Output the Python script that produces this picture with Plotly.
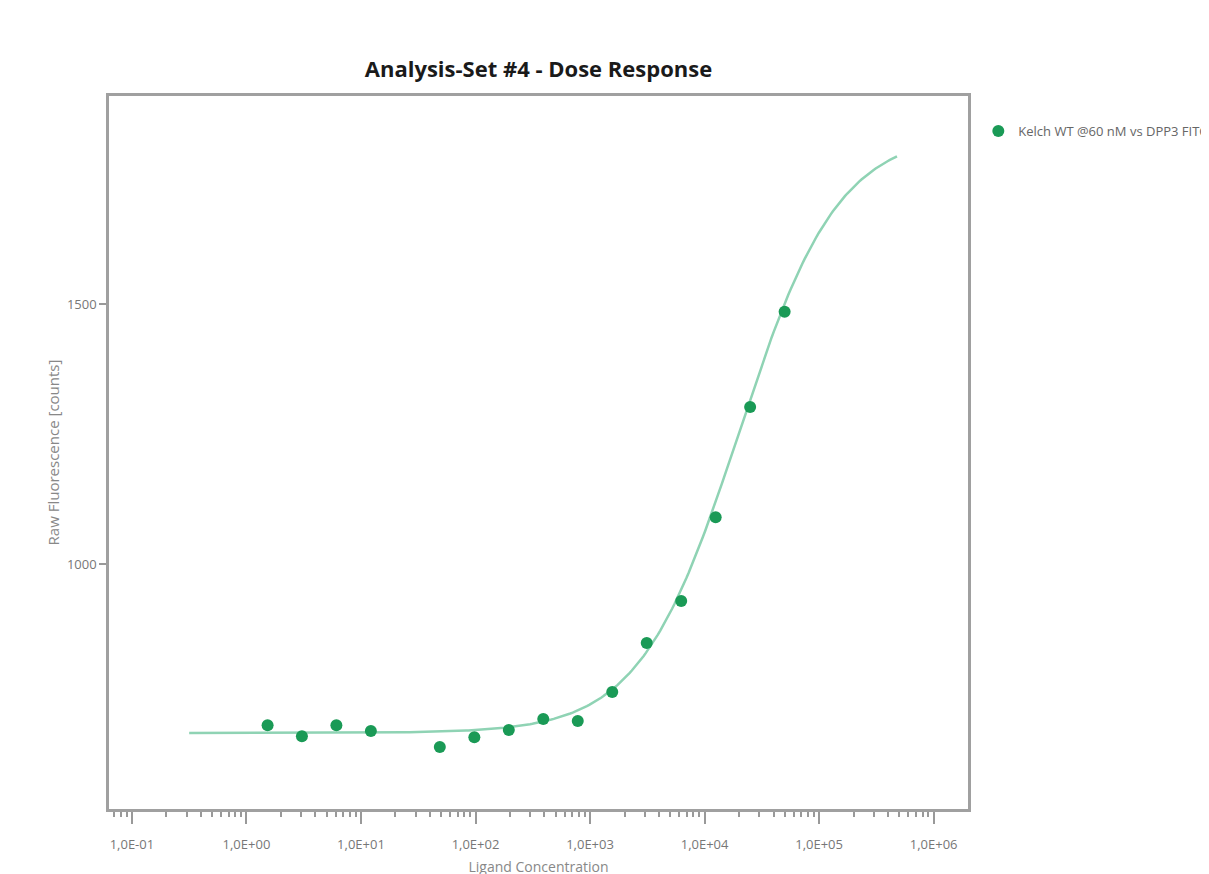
import numpy as np
import plotly.graph_objects as go

# Measured data (ligand concentration, raw fluorescence counts)
concentration = [1.53, 3.05, 6.1, 12.2, 48.8, 97.7, 195.3, 390.6, 781.3,
                 1562.5, 3125, 6250, 12500, 25000, 50000]
fluorescence = [690, 669, 690, 679, 648, 667, 681, 702, 698,
                754, 848, 929, 1090, 1302, 1485]

# 4-parameter logistic fit parameters
fit_bottom = 675
fit_top = 1830
fit_log_ec50 = 4.30
fit_hill = 1.0
fit_log_min = -0.5
fit_log_max = 5.68

x_tick_values = [1e-1, 1e0, 1e1, 1e2, 1e3, 1e4, 1e5, 1e6]
x_tick_labels = ["1,0E-01", "1,0E+00", "1,0E+01", "1,0E+02", "1,0E+03",
                 "1,0E+04", "1,0E+05", "1,0E+06"]
y_tick_values = [1000, 1500]
y_tick_labels = ["1000", "1500"]

series_name = "Kelch WT @60 nM vs DPP3 FITC"

log_x = np.linspace(fit_log_min, fit_log_max, 300)
fit_x = 10 ** log_x
fit_y = fit_bottom + (fit_top - fit_bottom) / (1 + 10 ** (fit_hill * (fit_log_ec50 - log_x)))

minor_vals = [m * 10 ** d for d in range(-2, 7) for m in range(2, 10)]

L, R, T, B = 101, 249, 88, 73
W, H = 1209, 874
plot_w = W - L - R

fig = go.Figure()
fig.add_trace(go.Scatter(x=fit_x, y=fit_y, mode="lines",
                         line=dict(color="#8fd3b4", width=2.5),
                         showlegend=False, hoverinfo="skip"))
fig.add_trace(go.Scatter(x=concentration, y=fluorescence, mode="markers",
                         marker=dict(color="#1a9a56", size=12),
                         name=series_name))

fig.update_layout(
    width=W, height=H,
    paper_bgcolor="white", plot_bgcolor="white",
    margin=dict(l=L, r=R, t=T, b=B, autoexpand=False),
    title=dict(text="<b>Analysis-Set #4 - Dose Response</b>",
               x=(L + plot_w / 2) / W, xanchor="center",
               y=1 - 61 / H, yanchor="middle",
               font=dict(family="Open Sans", size=22, color="#1a1a1a")),
    font=dict(family="Open Sans", color="#777777", size=12),
    legend=dict(x=1.012, y=0.972, xanchor="left", yanchor="top",
                font=dict(size=13, color="#666666"), bgcolor="rgba(0,0,0,0)",
                itemsizing="constant"),
)
fig.update_xaxes(type="log", range=[-1.2, 6.3],
                 tickvals=x_tick_values, ticktext=x_tick_labels,
                 ticks="outside", ticklen=12, tickcolor="#999999", tickwidth=1.5,
                 ticklabelstandoff=10,
                 showgrid=False, zeroline=False,
                 showline=True, linecolor="#a0a0a0", linewidth=2.5, mirror=True,
                 tickfont=dict(size=13, color="#777777"),
                 minor=dict(tickvals=minor_vals, ticks="outside", ticklen=5,
                            tickcolor="#999999", tickwidth=1.5, showgrid=False),
                 title=dict(text="Ligand Concentration", standoff=10,
                            font=dict(size=14, color="#888888")))
fig.update_yaxes(range=[529, 1900],
                 tickvals=y_tick_values, ticktext=y_tick_labels,
                 ticks="outside", ticklen=7, tickcolor="#999999", tickwidth=1.5,
                 ticklabelstandoff=0,
                 showgrid=False, zeroline=False,
                 showline=True, linecolor="#a0a0a0", linewidth=2.5, mirror=True,
                 tickfont=dict(size=13, color="#777777"),
                 title=dict(text="Raw Fluorescence [counts]", standoff=4,
                            font=dict(size=15, color="#888888")))

fig.write_html("out.html")
